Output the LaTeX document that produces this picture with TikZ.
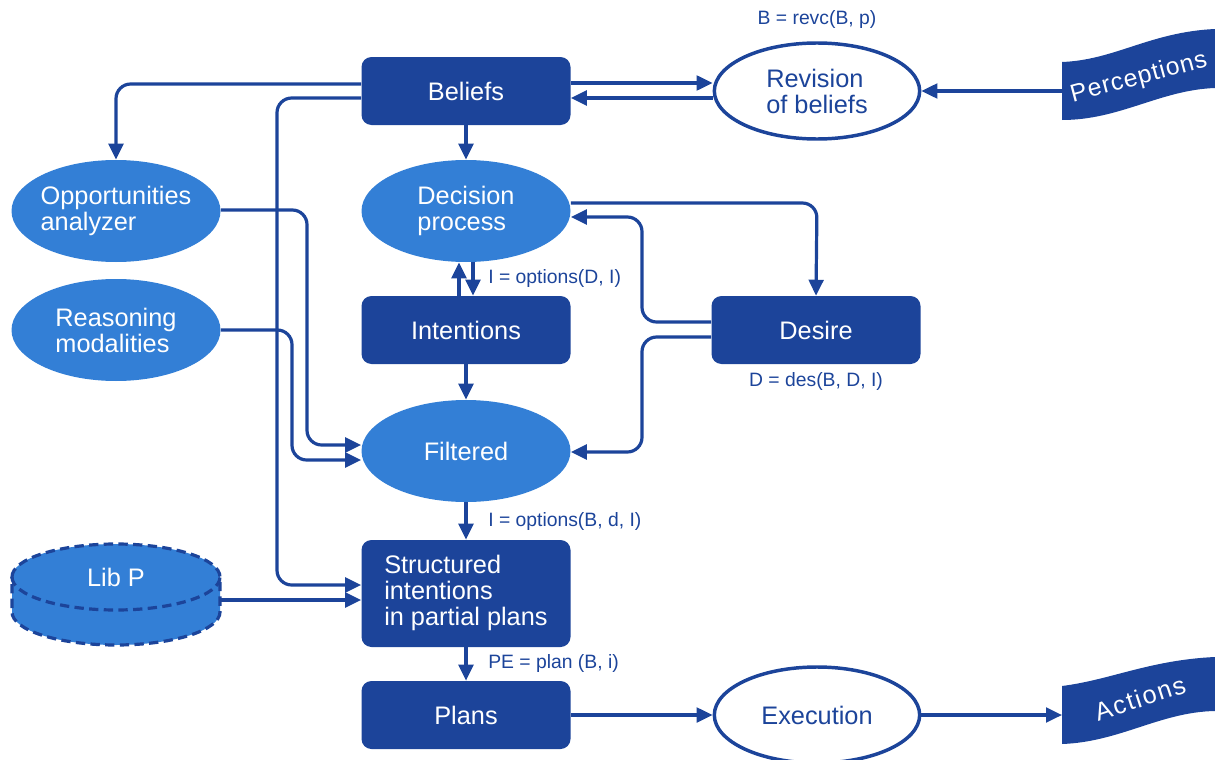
\documentclass[tikz,border=0pt]{standalone}
\usepackage{fontspec}
\setmainfont{Liberation Sans}
\usetikzlibrary{shapes.geometric,arrows.meta}
\definecolor{dkblue}{RGB}{28,68,154}
\definecolor{ltblue}{RGB}{51,127,214}

\begin{document}
\begin{tikzpicture}[x=0.75pt,y=-0.75pt,
  every node/.style={font=\fontsize{19}{19.5}\selectfont},
  box/.style={fill=dkblue,rounded corners=7.5pt,minimum width=156.75pt,minimum height=51pt,text=white,inner sep=0},
  blob/.style={ellipse,fill=ltblue,minimum width=156.75pt,minimum height=76.5pt,inner sep=0},
  ring/.style={ellipse,draw=dkblue,line width=2.6pt,fill=white,minimum width=154pt,minimum height=72pt,inner sep=0},
  intext/.style={text=white,align=left,inner sep=0},
  ringtext/.style={text=dkblue,align=left,inner sep=0},
  flagtext/.style={text=white,inner sep=0},
  formula/.style={text=dkblue,font=\fontsize{14.5}{16}\selectfont,inner sep=0},
  conn/.style={draw=dkblue,line width=2.4pt,-{Triangle[length=12pt,width=11pt]},rounded corners=11pt},
  libline/.style={draw=dkblue,line width=2.4pt,dash pattern={on 7pt off 4pt}}
]
\useasboundingbox (0,0) rectangle (1215,760);

% --- flags at the right edge
\fill[dkblue] (1062,62) .. controls (1115,60) and (1150,32) .. (1215,29) -- (1215,88)
  .. controls (1160,90) and (1120,120) .. (1062,120) -- cycle;
\node[flagtext,rotate=15,font=\fontsize{18.5}{19.5}\selectfont\addfontfeatures{LetterSpace=4}] (perc) at (1139,78) {Perceptions};
\coordinate (percL) at (1062,91);

\fill[dkblue] (1062,686) .. controls (1110,680) and (1150,660) .. (1215,657) -- (1215,711)
  .. controls (1160,712) and (1120,742) .. (1062,744) -- cycle;
\node[flagtext,rotate=18,font=\fontsize{19}{19.5}\selectfont\addfontfeatures{LetterSpace=7}] (act) at (1140,698) {Actions};
\coordinate (actL) at (1062,715);

% --- library cylinder
\fill[ltblue] (12,577) arc[start angle=180,end angle=0,x radius=78pt,y radius=24.75pt]
  -- (220,612) arc[start angle=0,end angle=-180,x radius=78pt,y radius=24.75pt] -- cycle;
\draw[libline] (12,577) arc[start angle=180,end angle=0,x radius=78pt,y radius=24.75pt]
  -- (220,612) arc[start angle=0,end angle=-180,x radius=78pt,y radius=24.75pt] -- cycle;
\draw[libline] (12,577) arc[start angle=180,end angle=360,x radius=78pt,y radius=24.75pt];
\node[text=white,inner sep=0] (libp) at (116,577) {Lib P};
\coordinate (libpR) at (221,600);

% --- main nodes
\node[box] (beliefs) at (466,91) {Beliefs};
\node[ring] (rev) at (817,91) {};
\node[ringtext] (revt) at (rev.center) {Revision\\of beliefs};
\node[formula] (revf) at (817,20) {B = revc(B, p)};

\node[blob] (dec) at (466,211) {};
\node[intext] (dect) at (dec.center) {Decision\\process};
\node[blob] (opp) at (116,211) {};
\node[intext] (oppt) at (opp.center) {Opportunities\\analyzer};
\node[blob] (reas) at (116,330) {};
\node[intext] (reast) at (reas.center) {Reasoning\\modalities};

\node[box] (int) at (466,330) {Intentions};
\node[box] (des) at (816,330) {Desire};
\node[formula] (desf) at (816,381) {D = des(B, D, I)};
\node[formula,anchor=west] (intf) at (488,278) {I = options(D, I)};

\node[blob] (filt) at (466,451) {};
\node[intext] (filtt) at (filt.center) {Filtered};
\node[formula,anchor=west] (filtf) at (488,521) {I = options(B, d, I)};

\node[box,minimum height=80.25pt] (struct) at (466,593.5) {};
\node[intext,anchor=west] (structt) at (384,593) {Structured\\intentions\\in partial plans};
\node[formula,anchor=west] (structf) at (488,663) {PE = plan (B, i)};

\node[box] (plans) at (466,715) {Plans};
\node[ring] (exec) at (817,715) {};
\node[ringtext] (exect) at (exec.center) {Execution};

% --- connectors
\draw[conn] (beliefs.east |- 0,83) -- (rev.west |- 0,83);
\draw[conn] (rev.west |- 0,98) -- (beliefs.east |- 0,98);
\draw[conn] (percL) -- (rev.east);
\draw[conn] (beliefs.south) -- (dec.north);
\draw[conn] (beliefs.west |- 0,84) -- (116,84) -- (opp.north);
\draw[conn] (beliefs.west |- 0,98) -- (277,98) -- (277,585) -- (struct.west |- 0,585);
\draw[conn] (libpR) -- (struct.west |- libpR);
\draw[conn] (opp.east |- 0,210) -- (307,210) -- (307,445) -- (filt.west |- 0,445);
\draw[conn] (reas.east) -- (292,330) -- (292,460) -- (filt.west |- 0,460);
\draw[conn] (int.north -| 459,0) -- (dec.south -| 459,0);
\draw[conn] (dec.south -| 473,0) -- (int.north -| 473,0);
\draw[conn] (dec.east |- 0,203) -- (817,203) -- (des.north);
\draw[conn] (des.west |- 0,322) -- (642,322) -- (642,217) -- (dec.east |- 0,217);
\draw[conn] (des.west |- 0,337) -- (642,337) -- (642,452) -- (filt.east |- 0,452);
\draw[conn] (int.south) -- (filt.north);
\draw[conn] (filt.south) -- (struct.north);
\draw[conn] (struct.south) -- (plans.north);
\draw[conn] (plans.east) -- (exec.west);
\draw[conn] (exec.east) -- (actL);
\end{tikzpicture}
\end{document}
